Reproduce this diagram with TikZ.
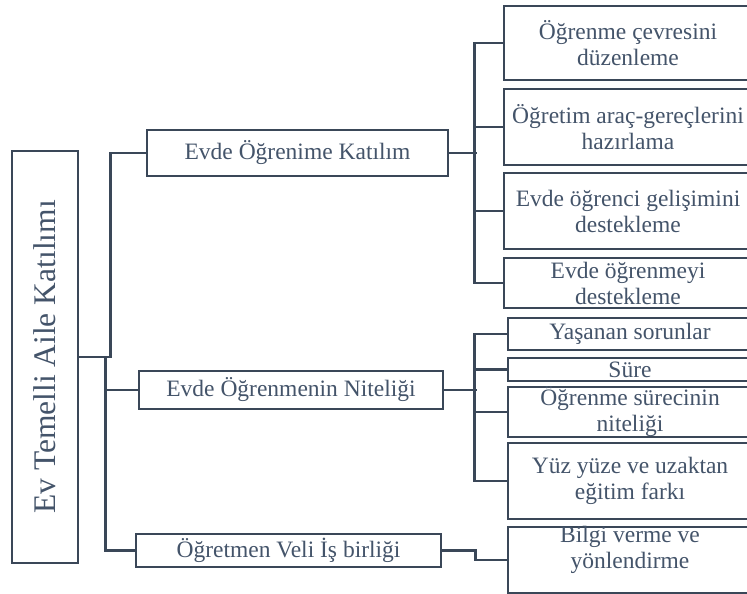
\documentclass[tikz,border=0pt]{standalone}
\usepackage{fontspec}
\setmainfont{Liberation Serif}
\definecolor{linec}{HTML}{3A4758}
\definecolor{txtc}{HTML}{44546A}
\begin{document}
\begin{tikzpicture}[x=1pt,y=-1pt,
  box/.style={draw=linec, line width=2.7pt, text=txtc, align=center, inner sep=0pt,
    font=\fontsize{23.5}{26}\selectfont},
  txt/.style={text=txtc, align=center, inner sep=0pt, font=\fontsize{23.5}{26}\selectfont},
  conn/.style={draw=linec, line width=2.7pt}]
\fill[white] (0,0) rectangle (747,594);
\useasboundingbox (0,0) rectangle (747,594);
\clip (0,0) rectangle (747,594);
% root
\node[box, minimum width=66pt, minimum height=412pt] (root) at (45,357)
  {\fontsize{31.5}{36}\selectfont\rotatebox{90}{Ev Temelli Aile Katılımı}};
% level 1
\node[box, minimum width=301pt, minimum height=46pt] (B1) at (297.5,153) {Evde Öğrenime Katılım};
\node[box, minimum width=304pt, minimum height=38pt] (B2) at (291,390) {Evde Öğrenmenin Niteliği};
\node[box, minimum width=305pt, minimum height=33pt] (B3) at (288.5,550.5) {Öğretmen Veli İş birliği};
% level 2, group 1
\node[box, minimum width=248pt, minimum height=74pt] (a1) at (628,43) {Öğrenme çevresini\\düzenleme};
\node[box, minimum width=248pt, minimum height=76pt] (a2) at (628,127) {Öğretim araç-gereçlerini\\hazırlama};
\node[box, minimum width=248pt, minimum height=76pt] (a3) at (628,211) {Evde öğrenci gelişimini\\destekleme};
\node[box, minimum width=248pt, minimum height=50pt] (a4) at (628,283) {Evde öğrenmeyi\\destekleme};
% group 2
\node[box, minimum width=244pt, minimum height=32pt] (b1) at (630,334) {Yaşanan sorunlar};
\node[box, minimum width=244pt, minimum height=23pt] (b2) at (630,369.5) {Süre};
\node[box, minimum width=244pt, minimum height=46pt] (b3) at (630,412) {Öğrenme sürecinin\\niteliği};
\node[box, minimum width=244pt, minimum height=76pt] (b4) at (630,481) {Yüz yüze ve uzaktan\\eğitim farkı};
% group 3
\node[box, minimum width=244pt, minimum height=66pt] (c1) at (630,560) {};
\node[txt] (c1t) at ([yshift=10pt]c1.center) {Bilgi verme ve\\yönlendirme};
% connectors root
\draw[conn] (root.east) -| ([xshift=-35pt]B1.west) -- (B1.west);
\draw[conn] (root.east) -| ([xshift=-29pt]B3.west) -- (B3.west);
\draw[conn] ([xshift=-32pt]B2.west) -- (B2.west);
% group 1
\draw[conn] (B1.east) -- ++(28,0);
\draw[conn] (a1.west) -- ++(-28,0) |- (a4.west);
\draw[conn] (a2.west) -- ++(-28,0);
\draw[conn] (a3.west) -- ++(-28,0);
% group 2
\draw[conn] (B2.east) -- ++(33,0);
\draw[conn] (b1.west) -- ++(-32,0) |- (b4.west);
\draw[conn] (b2.west) -- ++(-32,0);
\draw[conn] (b3.west) -- ++(-32,0);
% group 3
\draw[conn] (B3.east) -- ++(33,0) |- (c1.west);
\end{tikzpicture}
\end{document}
